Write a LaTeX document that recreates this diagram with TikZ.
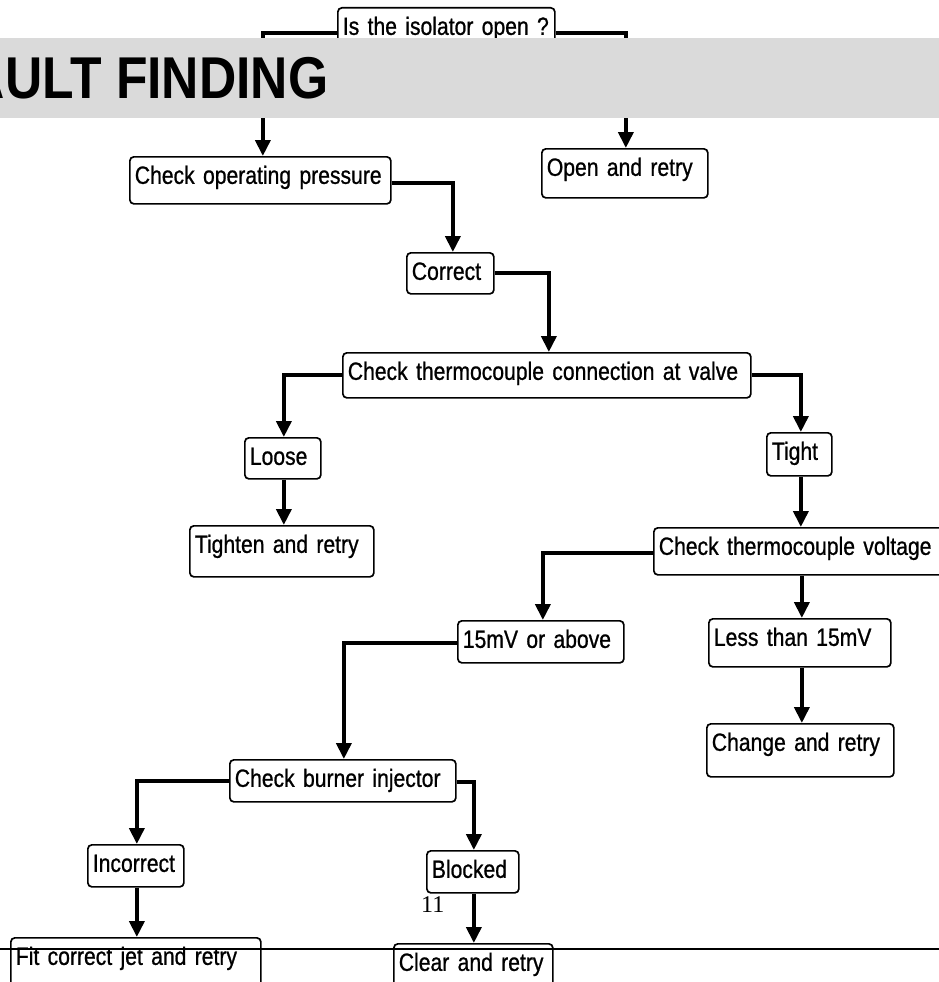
\documentclass[tikz,border=0pt]{standalone}
\usepackage{fontspec}
\setmainfont{Liberation Sans}[FakeStretch=0.845, FakeBold=0.8]
\newfontfamily\bannerfont{Liberation Sans}[FakeStretch=0.875]
\newfontfamily\pagefont{Liberation Serif}
\usetikzlibrary{arrows.meta}
\definecolor{bannergray}{RGB}{218,218,218}
\newcommand\myboxfont{\fontsize{25}{29}\selectfont\spaceskip=4pt plus 1pt minus 0.5pt\relax}
\tikzset{
  box/.style={draw, line width=1.7pt, rounded corners=4pt, anchor=north west,
    inner xsep=5pt, inner ysep=0pt, text height=27pt,
    font=\myboxfont},
  conn/.style={line width=3.8pt, -{Triangle[width=15pt,length=16pt]}},
}
\begin{document}
\begin{tikzpicture}[x=1pt,y=-1pt]
\useasboundingbox (0,0) rectangle (939,982);
\clip (0,0) rectangle (939,982);
% boxes
\node[box, text width=207pt, text depth=23pt] (iso) at (337,7) {Is the isolator open ?};
\node[box, text width=251pt, text depth=20pt] (cop) at (129,156) {Check operating pressure};
\node[box, text width=156pt, text depth=22pt] (open) at (541,148) {Open and retry};
\node[box, text width=77pt, text depth=14pt] (correct) at (406,252) {Correct};
\node[box, text width=398pt, text depth=18pt] (tconn) at (342,352) {Check thermocouple connection at valve};
\node[box, text width=66pt, text depth=14pt] (loose) at (244,437) {Loose};
\node[box, text width=55pt, text depth=16pt] (tight) at (766,432) {Tight};
\node[box, text width=174pt, text depth=24pt] (tighten) at (189,525) {Tighten and retry};
\node[box, text width=290pt, text depth=20pt] (volt) at (653,527) {Check thermocouple voltage};
\node[box, text width=156pt, text depth=15pt] (mv) at (457,620) {15mV or above};
\node[box, text width=172pt, text depth=21pt] (less) at (708,618) {Less than 15mV};
\node[box, text width=177pt, text depth=26pt] (change) at (706,723) {Change and retry};
\node[box, text width=216pt, text depth=15pt] (burner) at (229,759) {Check burner injector};
\node[box, text width=86pt, text depth=15pt] (incorrect) at (87,844) {Incorrect};
\node[box, text width=82pt, text depth=15pt] (blocked) at (426,850) {Blocked};
\node[box, text width=240pt, text depth=33pt] (fit) at (10,937) {Fit correct jet and retry};
\node[box, text width=149pt, text depth=33pt] (clear) at (393,943) {Clear and retry};
% connectors
\draw[conn] (iso.west) -| ([xshift=2.5pt]cop.north);
\draw[conn] (iso.east) -| ([xshift=1pt]open.north);
\draw[conn] ([yshift=-2.5pt]cop.east) -| ([xshift=2.5pt]correct.north);
\draw[conn] (correct.east) -| ([xshift=2pt]tconn.north);
\draw[conn] (tconn.west) -| ([xshift=1pt]loose.north);
\draw[conn] (tconn.east) -| ([xshift=1.5pt]tight.north);
\coordinate (lx) at ([xshift=1pt]loose.south);
\draw[conn] (lx) -- (lx |- tighten.north);
\coordinate (tx) at ([xshift=1.5pt]tight.south);
\draw[conn] (tx) -- (tx |- volt.north);
\draw[conn] ([yshift=-1.5pt]volt.west) -| ([xshift=2pt]mv.north);
\coordinate (lessn) at ([xshift=2pt]less.north);
\draw[conn] (lessn |- volt.south) -- (lessn);
\coordinate (lesss) at ([xshift=2pt]less.south);
\draw[conn] (lesss) -- (lesss |- change.north);
\draw[conn] ([yshift=-1pt]mv.west) -| ([xshift=1pt]burner.north);
\draw[conn] (burner.west) -| ([xshift=1pt]incorrect.north);
\draw[conn] ([yshift=-1pt]burner.east) -| ([xshift=1pt]blocked.north);
\coordinate (ix) at ([xshift=1pt]incorrect.south);
\draw[conn] (ix) -- (ix |- fit.north);
\coordinate (bx) at ([xshift=1pt]blocked.south);
\draw[conn] (bx) -- (bx |- clear.north);
% banner
\fill[bannergray] (0,38) rectangle (939,118);
\node[anchor=base west, inner sep=0pt, font=\bannerfont\bfseries\fontsize{59}{64}\selectfont] (title) at (-61,98) {FAULT FINDING};
% page number and rule
\node[anchor=base west, inner sep=0pt, font=\pagefont\fontsize{24}{28}\selectfont] (pg) at (421,912) {11};
\coordinate (rl) at (0,949);
\coordinate (rr) at (939,949);
\draw[line width=1.5pt] (rl) -- (rr);
\end{tikzpicture}
\end{document}
